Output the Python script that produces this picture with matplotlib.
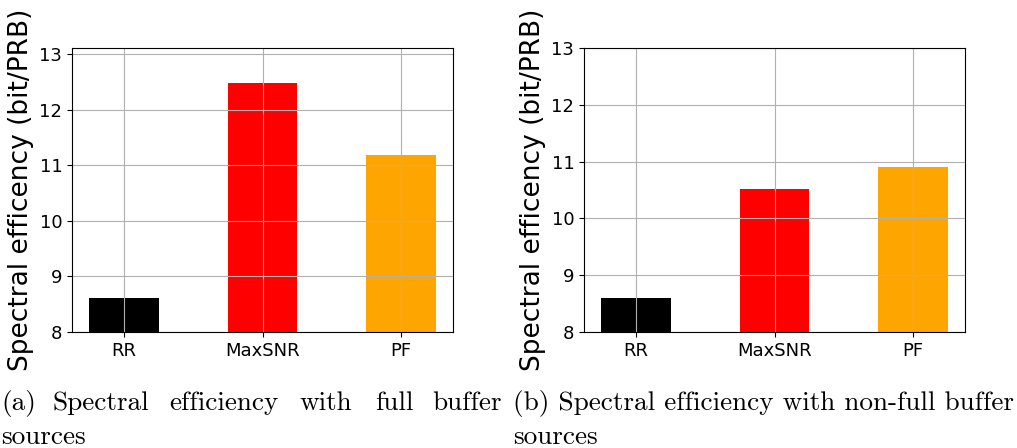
import matplotlib

matplotlib.use("Agg")
import matplotlib.pyplot as plt

schedulers = ["RR", "MaxSNR", "PF"]
colors = ["black", "red", "orange"]
se_full = [8.61, 12.49, 11.19]
se_nonfull = [8.59, 10.52, 10.90]

caption_a_words = ["(a)", "Spectral", "efficiency", "with", "full", "buffer"]
caption_b = "(b) Spectral efficiency with non-full buffer"
caption_tail = "sources"

W, H = 1017, 448
fig = plt.figure(figsize=(W / 100, H / 100), dpi=100)
ax_a = fig.add_axes([72 / W, 1 - 332 / H, 381 / W, 284 / H])
ax_b = fig.add_axes([584 / W, 1 - 332 / H, 381 / W, 284 / H])

for ax, vals in ((ax_a, se_full), (ax_b, se_nonfull)):
    ax.bar(range(len(schedulers)), vals, width=0.5, color=colors)
    ax.set_xticks(range(len(schedulers)))
    ax.set_xticklabels(schedulers)
    ax.tick_params(labelsize=13)
    ax.set_ylabel("Spectral efficency (bit/PRB)", fontsize=19)
    ax.grid(True)
    ax.set_yticks([8, 9, 10, 11, 12, 13])

ax_a.set_ylim(bottom=8)
ax_b.set_ylim(8, 13)

cap = dict(family="cmr10", fontsize=19.6, va="baseline")
# caption (a) is justified in the source, so words are spread out
xs_a = [1, 52, 169, 299, 375, 432]
for word, x in zip(caption_a_words, xs_a):
    fig.text(x / W, 1 - 410 / H, word, **cap)
fig.text(513 / W, 1 - 410 / H, caption_b, **cap)
fig.text(1 / W, 1 - 444 / H, caption_tail, **cap)
fig.text(513 / W, 1 - 444 / H, caption_tail, **cap)

fig.savefig("out.png", dpi=100)
